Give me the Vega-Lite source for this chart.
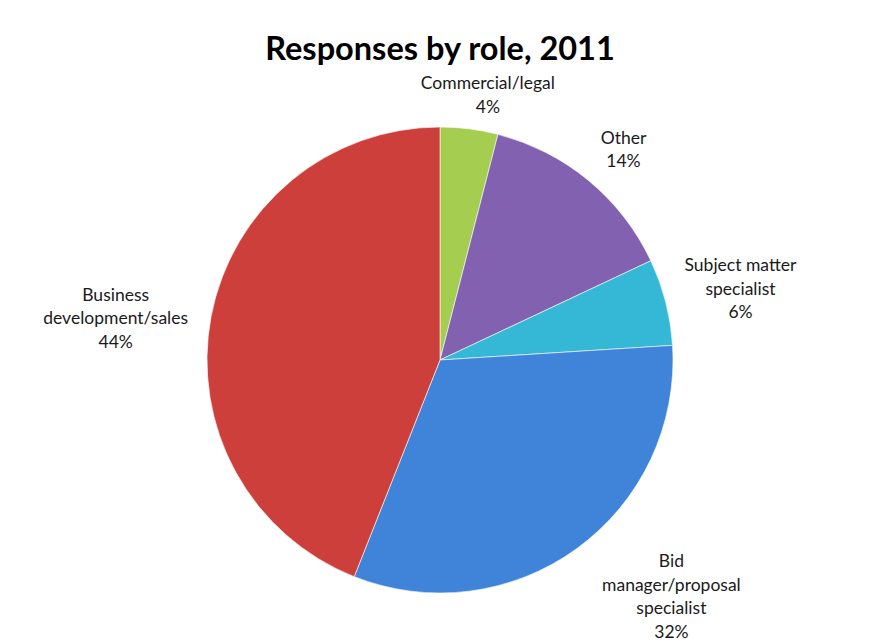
{
  "$schema": "https://vega.github.io/schema/vega-lite/v6.json",
  "autosize": "none",
  "width": 466,
  "height": 466,
  "padding": {"left": 207, "top": 127, "right": 202, "bottom": 50},
  "background": "#ffffff",
  "title": {
    "text": "Responses by role, 2011",
    "font": "Lato",
    "fontSize": 32.5,
    "fontWeight": "bold",
    "color": "#000000",
    "anchor": "middle",
    "frame": "group",
    "offset": 9
  },
  "data": {
    "values": [
      {"role": "Commercial/legal", "share": 4, "label": "Commercial/legal\n4%"},
      {"role": "Other", "share": 14, "label": "Other\n14%"},
      {"role": "Subject matter specialist", "share": 6, "label": "Subject matter\nspecialist\n6%"},
      {"role": "Bid manager/proposal specialist", "share": 32, "label": "Bid\nmanager/proposal\nspecialist\n32%"},
      {"role": "Business development/sales", "share": 44, "label": "Business\ndevelopment/sales\n44%"}
    ]
  },
  "transform": [{"window": [{"op": "row_number", "as": "idx"}]}],
  "encoding": {
    "theta": {"field": "share", "type": "quantitative", "stack": true},
    "order": {"field": "idx", "type": "quantitative", "sort": "ascending"},
    "color": {
      "field": "role",
      "type": "nominal",
      "scale": {
        "domain": ["Commercial/legal", "Other", "Subject matter specialist", "Bid manager/proposal specialist", "Business development/sales"],
        "range": ["#A5CD50", "#8262B0", "#35B8D6", "#3F84D8", "#CC3F3B"]
      },
      "legend": null
    }
  },
  "layer": [
    {
      "mark": {"type": "arc", "stroke": "#ffffff", "strokeOpacity": 0.6, "strokeWidth": 1}
    },
    {
      "mark": {
        "type": "text",
        "font": "Lato",
        "fontSize": 17.5,
        "lineBreak": "\n",
        "lineHeight": 23.5,
        "align": "center",
        "baseline": "middle",
        "radius": {"expr": "datum.role === 'Commercial/legal' ? 270 : datum.role === 'Other' ? 280 : datum.role === 'Subject matter specialist' ? 303 : datum.role === 'Bid manager/proposal specialist' ? 312 : 319"},
        "dx": {"expr": "datum.role === 'Commercial/legal' ? 14 : datum.role === 'Other' ? 5 : datum.role === 'Subject matter specialist' ? 7 : datum.role === 'Bid manager/proposal specialist' ? 48 : -11"},
        "dy": {"expr": "-(length(split(datum.label, '\\n')) - 1) * 23.5 / 2 + (datum.role === 'Commercial/legal' ? 4 : datum.role === 'Other' ? 6 : datum.role === 'Subject matter specialist' ? 5 : datum.role === 'Bid manager/proposal specialist' ? -15 : 19)"}
      },
      "encoding": {
        "text": {"field": "label"},
        "fill": {"value": "#1a1a1a"}
      }
    }
  ],
  "config": {"view": {"stroke": null}}
}
